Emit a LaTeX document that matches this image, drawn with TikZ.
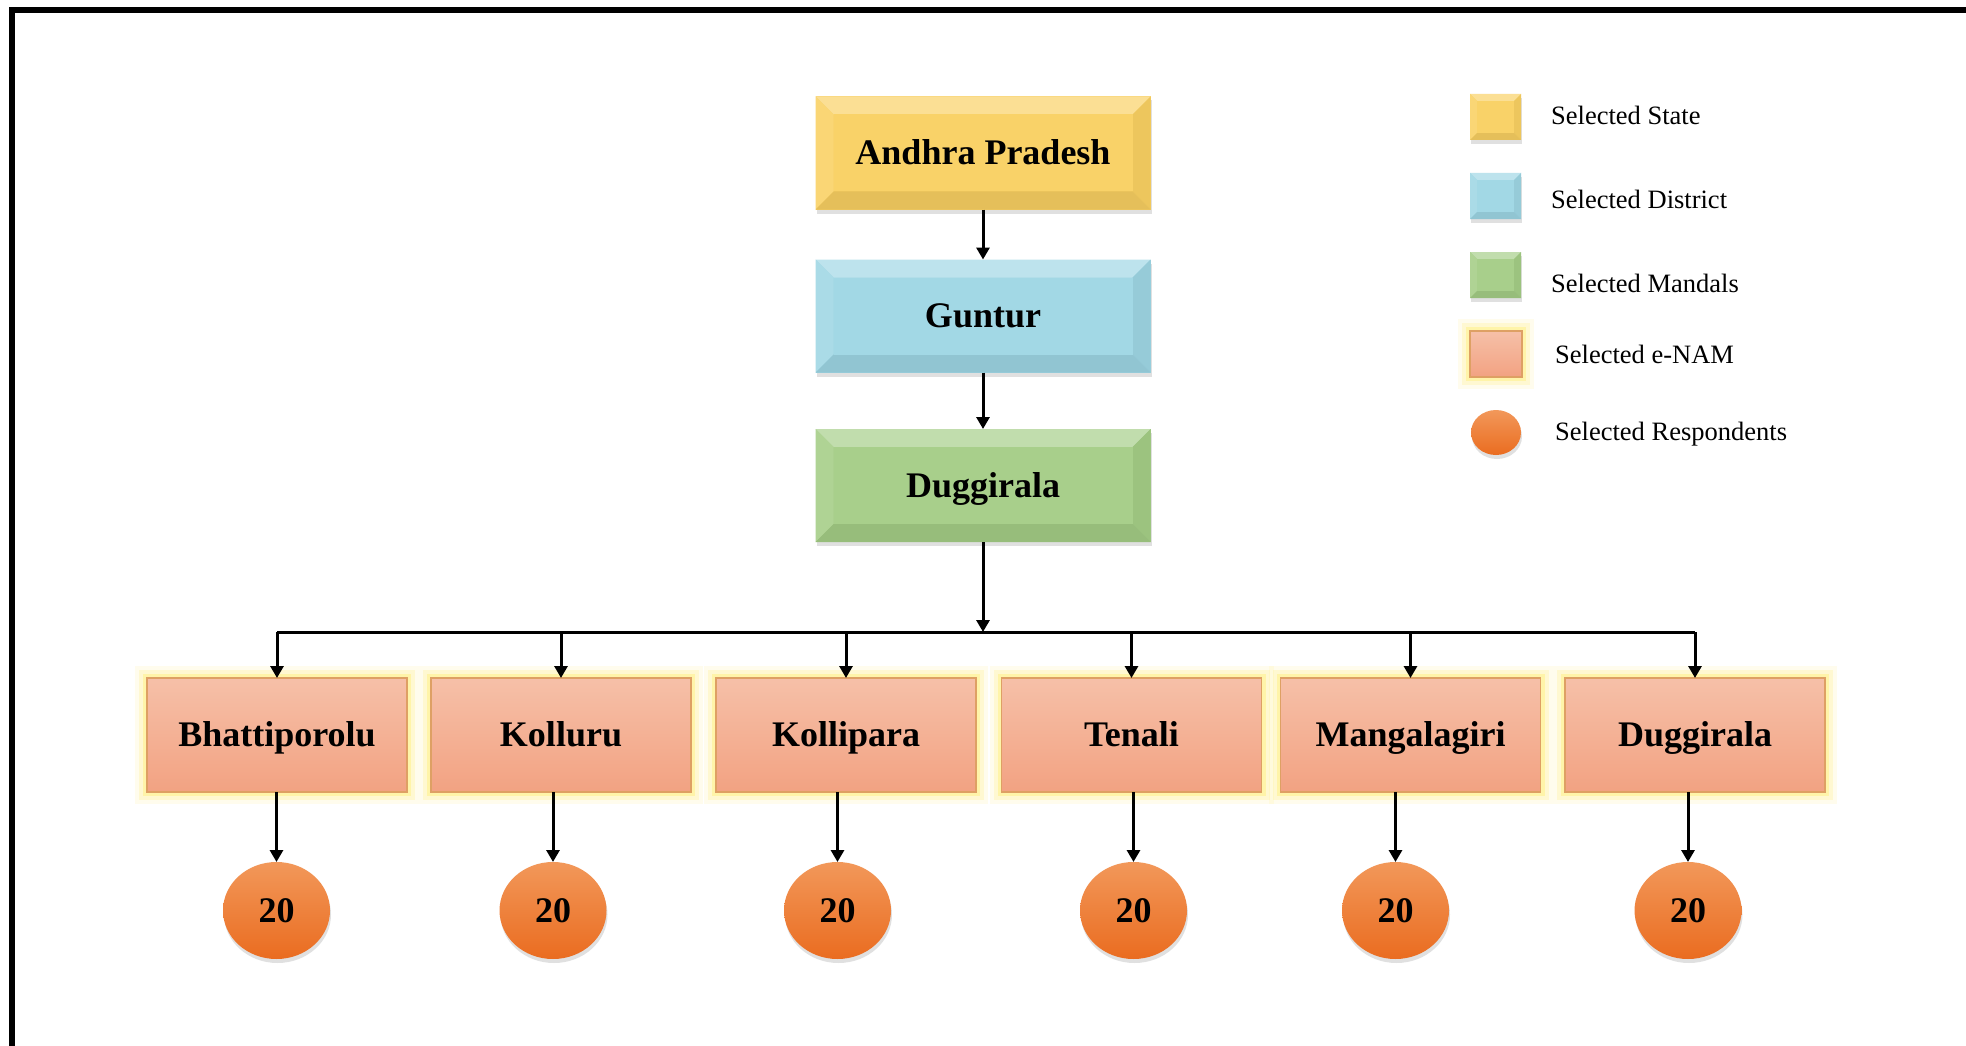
\documentclass[tikz,border=0pt]{standalone}
\usepackage{fontspec}
\setmainfont{Liberation Serif}
\usetikzlibrary{arrows.meta,shapes.geometric,shadows,calc}

\definecolor{stateY}{RGB}{249,208,98}
\definecolor{distB}{RGB}{158,214,228}
\definecolor{mandG}{RGB}{164,205,134}
\definecolor{enamTop}{RGB}{246,192,168}
\definecolor{enamBot}{RGB}{242,162,130}
\definecolor{enamLine}{RGB}{222,160,100}
\definecolor{glowY}{RGB}{255,238,110}
\definecolor{respTop}{RGB}{242,152,90}
\definecolor{respBot}{RGB}{234,108,32}

\tikzset{
  bigtxt/.style={font=\fontsize{36}{40}\selectfont\bfseries, text height=23.5pt, text depth=0pt},
  legtxt/.style={font=\fontsize{26.5}{30}\selectfont, anchor=base west, inner sep=0pt},
  softshadow/.style={drop shadow={shadow xshift=1pt, shadow yshift=-4pt, opacity=.22, fill=black!55}},
  bevelled/.style 2 args={
    fill=#1, draw=none, outer sep=0pt, inner sep=0pt, softshadow,
    path picture={
      \coordinate (bvNW) at (path picture bounding box.north west);
      \coordinate (bvNE) at (path picture bounding box.north east);
      \coordinate (bvSW) at (path picture bounding box.south west);
      \coordinate (bvSE) at (path picture bounding box.south east);
      \coordinate (bvnw) at ([shift={(#2,-#2)}]bvNW);
      \coordinate (bvne) at ([shift={(-#2,-#2)}]bvNE);
      \coordinate (bvsw) at ([shift={(#2,#2)}]bvSW);
      \coordinate (bvse) at ([shift={(-#2,#2)}]bvSE);
      \fill[#1!68!white] (bvNW) -- (bvNE) -- (bvne) -- (bvnw) -- cycle;
      \fill[#1!88!white] (bvNW) -- (bvnw) -- (bvsw) -- (bvSW) -- cycle;
      \fill[#1!95!black] (bvNE) -- (bvne) -- (bvse) -- (bvSE) -- cycle;
      \fill[#1!92!black] (bvSW) -- (bvsw) -- (bvse) -- (bvSE) -- cycle;
      \fill[#1!96!white] (bvnw) -- (bvne) -- (bvse) -- (bvsw) -- cycle;
    }
  },
  mainbox/.style={minimum width=335pt, minimum height=113pt, bigtxt},
  glow/.style={
    preaction={draw=glowY, line width=24pt, opacity=.12},
    preaction={draw=glowY, line width=16pt, opacity=.22},
    preaction={draw=glowY, line width=8pt, opacity=.4}},
  enambox/.style={rectangle, top color=enamTop, bottom color=enamBot, draw=enamLine,
    line width=1.2pt, glow, outer sep=0pt},
  enam/.style={enambox, minimum width=260pt, minimum height=114pt, bigtxt},
  respball/.style={ellipse, top color=respTop, bottom color=respBot, draw=none,
    inner sep=0pt, outer sep=0pt, softshadow},
  resp/.style={respball, minimum width=107pt, minimum height=97pt, bigtxt},
  conn/.style={line width=3pt, -{Triangle[width=13pt,length=12pt]}},
  busline/.style={line width=3pt},
}

\begin{document}
\begin{tikzpicture}[x=1pt, y=-1pt]
  % page area and white ground
  \clip (0,0) rectangle (1966,1046);
  \fill[white] (0,0) rectangle (1966,1046);
  % outer frame, running past the right and lower edges
  \draw[line width=6pt, line join=miter] (11.5,1080) -- (11.5,10.5) -- (2000,10.5);

  % hierarchy: state, district, mandal
  \node[bevelled={stateY}{18pt}, mainbox] (ap)  at (983,153)   {Andhra Pradesh};
  \node[bevelled={distB}{18pt},  mainbox] (gun) at (983,316)   {Guntur};
  \node[bevelled={mandG}{18pt},  mainbox] (dug) at (983,485.5) {Duggirala};

  \draw[conn] (ap) -- (gun);
  \draw[conn] (gun) -- (dug);

  % distribution bus
  \coordinate (bus)  at (983,632);
  \coordinate (busL) at (277,632);
  \coordinate (busR) at (1695,632);
  \draw[conn] (dug) -- (bus);
  \draw[busline] (busL) -- (busR);

  % e-NAM markets
  \node[enam] (m1) at (277,735)    {Bhattiporolu};
  \node[enam] (m2) at (561,735)    {Kolluru};
  \node[enam] (m3) at (846,735)    {Kollipara};
  \node[enam] (m4) at (1131.5,735) {Tenali};
  \node[enam] (m5) at (1410.5,735) {Mangalagiri};
  \node[enam] (m6) at (1695,735)   {Duggirala};

  % respondents per market
  \node[resp] (r1) at (276.5,910.5)  {20};
  \node[resp] (r2) at (553,910.5)    {20};
  \node[resp] (r3) at (837.5,910.5)  {20};
  \node[resp] (r4) at (1133.5,910.5) {20};
  \node[resp] (r5) at (1395.5,910.5) {20};
  \node[resp] (r6) at (1688,910.5)   {20};

  \foreach \i in {1,...,6}{
    \draw[conn] (m\i |- busL) -- (m\i.north);
    \draw[conn] (r\i |- m\i.south) -- (r\i.north);
  }

  % legend
  \node[bevelled={stateY}{7pt}, minimum width=51pt, minimum height=46pt] (kS) at (1495.5,117) {};
  \node[bevelled={distB}{7pt},  minimum width=51pt, minimum height=46pt] (kD) at (1495.5,196) {};
  \node[bevelled={mandG}{7pt},  minimum width=51pt, minimum height=46pt] (kM) at (1495.5,275) {};
  \node[enambox, minimum width=52pt, minimum height=46pt] (kE) at (1496,354) {};
  \node[respball, minimum width=50pt, minimum height=45pt] (kR) at (1496,432.5) {};

  \node[legtxt] (tS) at (1551,125) {Selected State};
  \node[legtxt] (tD) at (1551,208) {Selected District};
  \node[legtxt] (tM) at (1551,292) {Selected Mandals};
  \node[legtxt] (tE) at (1555,363) {Selected e-NAM};
  \node[legtxt] (tR) at (1555,440) {Selected Respondents};
\end{tikzpicture}
\end{document}
